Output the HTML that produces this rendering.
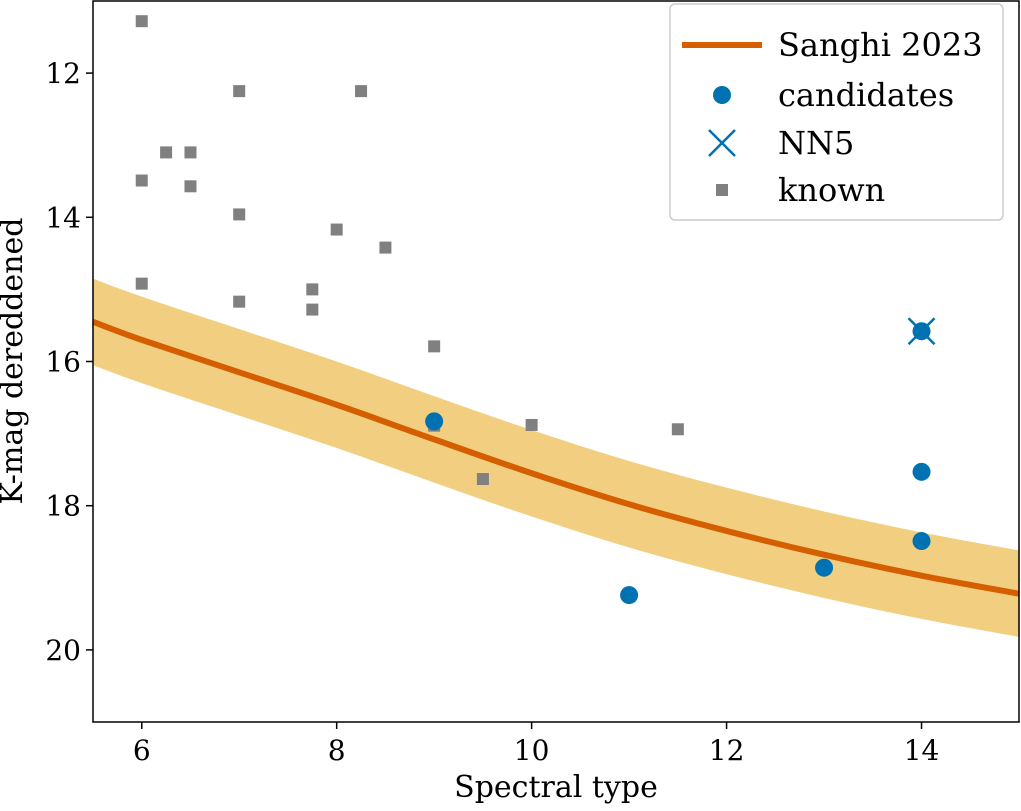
<!DOCTYPE html>
<html><head><meta charset="utf-8"><style>
body{margin:0;background:#fff}
svg text{font-family:"DejaVu Serif","Liberation Serif",serif;fill:#000}
</style></head><body>
<svg id="chart" width="1021" height="806" viewBox="0 0 1021 806" xmlns="http://www.w3.org/2000/svg">
<g id="plot"></g>
</svg>
<script>
const knownX=[6,6,6,6.25,6.5,6.5,7,7,7,7.75,7.75,8,8.25,8.5,9,9,9.5,10,11.5];
const knownY=[11.28,13.49,14.92,13.1,13.1,13.57,12.25,13.96,15.17,15.0,15.28,14.17,12.25,14.42,15.79,16.89,17.63,16.88,16.94];
const candX=[9,11,13,14,14,14];
const candY=[16.83,19.24,18.86,17.53,18.49,15.58];
const nn5X=[14];
const nn5Y=[15.58];
const curveX=[5.5,6,7,8,9,10,11,12,13,14,15];
const curveY=[15.45,15.7,16.15,16.6,17.08,17.55,17.98,18.35,18.68,18.97,19.22];
const bandHalf=0.6;
const xTicks=[6,8,10,12,14];
const yTicks=[12,14,16,18,20];
const L=93,R=1019,T=1,B=722,x0=5.5,x1=15,y0=11,y1=21;
const X=v=>L+(v-x0)/(x1-x0)*(R-L);
const Y=v=>T+(v-y0)/(y1-y0)*(B-T);
const NS="http://www.w3.org/2000/svg";
const g=document.getElementById('plot');
function mk(t,a,p){const e=document.createElementNS(NS,t);for(const k in a)e.setAttribute(k,a[k]);(p||g).appendChild(e);return e;}
function smooth(pts){let s='';for(let i=0;i<pts.length-1;i++){const p0=pts[Math.max(i-1,0)],p1=pts[i],p2=pts[i+1],p3=pts[Math.min(i+2,pts.length-1)];
const c1=[p1[0]+(p2[0]-p0[0])/6,p1[1]+(p2[1]-p0[1])/6],c2=[p2[0]-(p3[0]-p1[0])/6,p2[1]-(p3[1]-p1[1])/6];
s+=` C${c1[0]},${c1[1]} ${c2[0]},${c2[1]} ${p2[0]},${p2[1]}`;}return s;}
const up=curveX.map((x,i)=>[X(x),Y(curveY[i]-bandHalf)]);
const lo=curveX.map((x,i)=>[X(x),Y(curveY[i]+bandHalf)]).reverse();
const mid=curveX.map((x,i)=>[X(x),Y(curveY[i])]);
let d='M'+up[0].join(',')+smooth(up)+' L'+lo[0].join(',')+smooth(lo)+'Z';
let e=mk('path',{d:d,fill:'#f2cf80'});


e=mk('path',{d:'M'+mid[0].join(',')+smooth(mid),fill:'none',stroke:'#d55e00','stroke-width':6});


knownX.forEach((x,i)=>{const r=mk('rect',{x:X(x)-6,y:Y(knownY[i])-6,width:12,height:12,fill:'#808080'});

});
candX.forEach((x,i)=>{const c=mk('circle',{cx:X(x),cy:Y(candY[i]),r:9,fill:'#0072b2'});

});
nn5X.forEach((x,i)=>{const cx=X(x),cy=Y(nn5Y[i]);const p=mk('path',{d:`M${cx-13},${cy-13}L${cx+13},${cy+13}M${cx-13},${cy+13}L${cx+13},${cy-13}`,stroke:'#0072b2','stroke-width':2.5});

});
e=mk('rect',{x:L,y:T,width:R-L,height:B-T,fill:'none',stroke:'#000','stroke-width':1.5});


xTicks.forEach(v=>{mk('line',{x1:X(v),x2:X(v),y1:B,y2:B+7,stroke:'#000','stroke-width':1.5});
const t=mk('text',{x:X(v),y:B+38,'text-anchor':'middle','font-size':28});t.textContent=v;

});
yTicks.forEach(v=>{mk('line',{x1:L-7,x2:L,y1:Y(v),y2:Y(v),stroke:'#000','stroke-width':1.5});
const t=mk('text',{x:L-12,y:Y(v)+10,'text-anchor':'end','font-size':28});t.textContent=v;

});
e=mk('text',{x:556,y:797,'text-anchor':'middle','font-size':30});e.textContent='Spectral type';


e=mk('text',{x:0,y:0,'text-anchor':'middle','font-size':30,transform:'translate(22,361) rotate(-90)'});e.textContent='K-mag dereddened';


const lg=mk('g',{});


mk('rect',{x:670,y:4,width:333,height:216,rx:5,fill:'#fff','fill-opacity':0.85,stroke:'#ccc','stroke-width':1.5},lg);
mk('line',{x1:682,x2:762,y1:45,y2:45,stroke:'#d55e00','stroke-width':6},lg);
mk('circle',{cx:722,cy:95,r:9,fill:'#0072b2'},lg);
mk('path',{d:'M709,130L735,156M709,156L735,130',stroke:'#0072b2','stroke-width':2.5},lg);
mk('rect',{x:716,y:184,width:12,height:12,fill:'#808080'},lg);
[['Sanghi 2023',45],['candidates',95],['NN5',143],['known',190]].forEach(([s,y])=>{const t=mk('text',{x:778,y:y+11,'font-size':32},lg);t.textContent=s;

});
</script>
</body></html>
